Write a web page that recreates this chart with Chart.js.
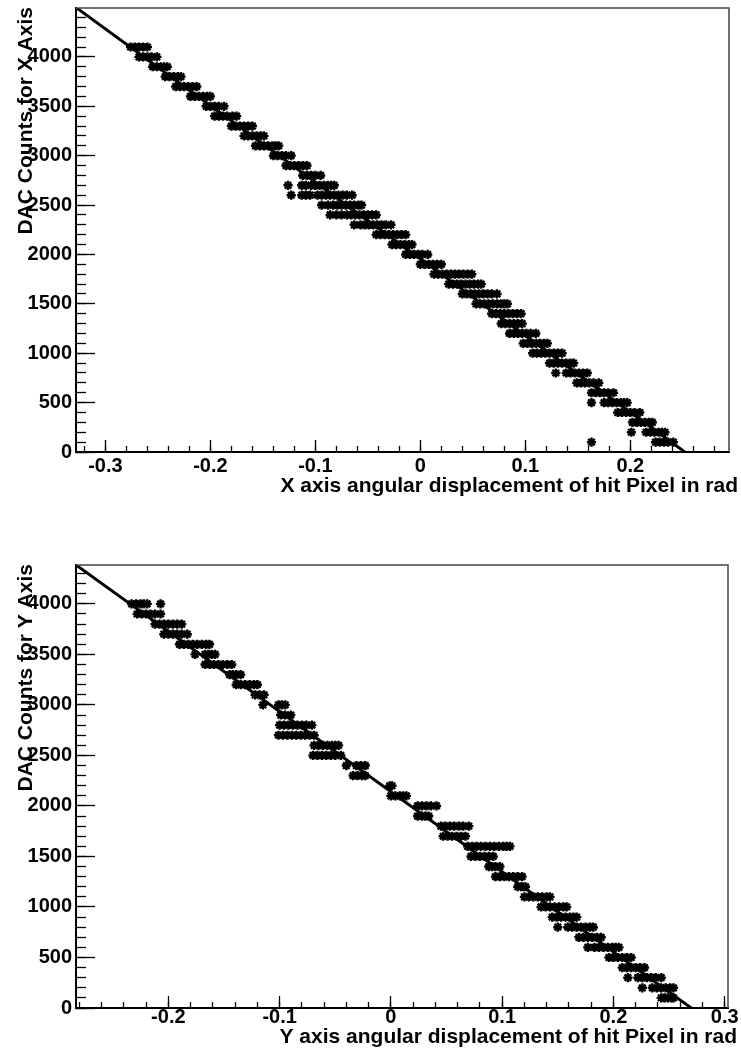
<!doctype html>
<html>
<head>
  <meta charset="utf-8">
  <title>DAC counts vs angular displacement</title>
  <style>
    body { margin: 0; background: #fff; }
    canvas { display: block; }
  </style>
</head>
<body>
<canvas id="topChart" width="741" height="527"></canvas>
<canvas id="bottomChart" width="741" height="527"></canvas>

<script src="https://cdn.jsdelivr.net/npm/chart.js@4"></script>
<script>

	// X axis: DAC level (counts) and the hit angles (rad) recorded at each level
	const dacX = [4100, 4000, 3900, 3800, 3700, 3600, 3500, 3400, 3300, 3200, 3100,
		3000, 2900, 2800, 2700, 2600, 2500, 2400, 2300, 2200, 2100,
		2000, 1900, 1800, 1700, 1600, 1500, 1400, 1300, 1200, 1100,
		1000, 900, 800, 700, 600, 500, 400, 300, 200, 100]

	const angX = [
		[-0.276, -0.272, -0.268, -0.264, -0.260],
		[-0.268, -0.264, -0.260, -0.256, -0.251],
		[-0.255, -0.251, -0.247, -0.244, -0.241],
		[-0.243, -0.239, -0.235, -0.231, -0.228],
		[-0.233, -0.229, -0.225, -0.221, -0.217, -0.213],
		[-0.219, -0.215, -0.211, -0.207, -0.203, -0.200],
		[-0.204, -0.200, -0.196, -0.192, -0.187],
		[-0.196, -0.192, -0.188, -0.184, -0.179, -0.175],
		[-0.180, -0.176, -0.172, -0.168, -0.164, -0.160],
		[-0.168, -0.164, -0.160, -0.156, -0.152, -0.149],
		[-0.157, -0.153, -0.149, -0.145, -0.141, -0.138, -0.135],
		[-0.140, -0.136, -0.132, -0.128, -0.123],
		[-0.128, -0.124, -0.120, -0.116, -0.112, -0.108],
		[-0.112, -0.108, -0.104, -0.100, -0.095],
		[-0.126, -0.113, -0.109, -0.104, -0.100, -0.096, -0.092, -0.088, -0.085, -0.082],
		[-0.123, -0.113, -0.109, -0.105, -0.098, -0.094, -0.090, -0.086, -0.082, -0.078, -0.074, -0.070, -0.065],
		[-0.094, -0.088, -0.083, -0.079, -0.075, -0.071, -0.067, -0.063, -0.059, -0.056],
		[-0.086, -0.080, -0.075, -0.070, -0.066, -0.062, -0.058, -0.054, -0.050, -0.046, -0.042],
		[-0.063, -0.057, -0.053, -0.049, -0.045, -0.041, -0.037, -0.033, -0.028],
		[-0.042, -0.038, -0.034, -0.030, -0.026, -0.022, -0.018, -0.014],
		[-0.027, -0.023, -0.019, -0.015, -0.011, -0.008],
		[-0.014, -0.010, -0.006, -0.002, 0.002, 0.007],
		[0.000, 0.004, 0.008, 0.012, 0.016, 0.020],
		[0.013, 0.017, 0.021, 0.025, 0.029, 0.033, 0.037, 0.041, 0.045, 0.049],
		[0.027, 0.031, 0.035, 0.039, 0.043, 0.047, 0.051, 0.055, 0.058],
		[0.040, 0.044, 0.048, 0.052, 0.056, 0.060, 0.064, 0.068, 0.073],
		[0.053, 0.057, 0.061, 0.065, 0.069, 0.073, 0.077, 0.080, 0.083],
		[0.068, 0.072, 0.076, 0.080, 0.084, 0.088, 0.092, 0.096],
		[0.077, 0.081, 0.085, 0.089, 0.093, 0.097],
		[0.085, 0.089, 0.093, 0.097, 0.101, 0.105, 0.110],
		[0.098, 0.102, 0.106, 0.110, 0.114, 0.118, 0.121],
		[0.107, 0.111, 0.115, 0.119, 0.123, 0.127, 0.131, 0.135],
		[0.123, 0.127, 0.131, 0.135, 0.139, 0.143, 0.146],
		[0.129, 0.139, 0.143, 0.147, 0.151, 0.155, 0.159],
		[0.149, 0.153, 0.157, 0.161, 0.165, 0.170],
		[0.163, 0.167, 0.171, 0.175, 0.179, 0.184],
		[0.163, 0.175, 0.179, 0.183, 0.187, 0.191, 0.194, 0.197],
		[0.188, 0.192, 0.196, 0.200, 0.204, 0.209],
		[0.202, 0.206, 0.210, 0.214, 0.218, 0.221],
		[0.201, 0.215, 0.219, 0.223, 0.227, 0.230, 0.233],
		[0.163, 0.224, 0.228, 0.232, 0.236, 0.241],
	]

	// Y axis: same thing
	const dacY = [4000, 3900, 3800, 3700, 3600, 3500, 3400, 3300, 3200, 3100,
		3000, 2900, 2800, 2700, 2600, 2500, 2400, 2300, 2200, 2100,
		2000, 1900, 1800, 1700, 1600, 1500, 1400, 1300, 1200, 1100,
		1000, 900, 800, 700, 600, 500, 400, 300, 200, 100]

	const angY = [
		[-0.233, -0.229, -0.225, -0.222, -0.219, -0.207],
		[-0.228, -0.224, -0.220, -0.216, -0.212, -0.207],
		[-0.212, -0.208, -0.204, -0.200, -0.196, -0.192, -0.188],
		[-0.204, -0.200, -0.196, -0.192, -0.188, -0.183],
		[-0.190, -0.186, -0.182, -0.178, -0.174, -0.170, -0.166, -0.163],
		[-0.176, -0.167, -0.164, -0.161, -0.158],
		[-0.167, -0.163, -0.159, -0.155, -0.151, -0.147, -0.143],
		[-0.145, -0.142, -0.139, -0.135],
		[-0.139, -0.135, -0.131, -0.127, -0.123, -0.120],
		[-0.122, -0.118, -0.114],
		[-0.115, -0.101, -0.098, -0.095],
		[-0.099, -0.095, -0.090],
		[-0.100, -0.096, -0.092, -0.088, -0.084, -0.080, -0.076, -0.071],
		[-0.101, -0.097, -0.093, -0.089, -0.085, -0.081, -0.077, -0.073, -0.069],
		[-0.069, -0.065, -0.061, -0.057, -0.053, -0.050, -0.047],
		[-0.070, -0.066, -0.062, -0.058, -0.054, -0.050, -0.045],
		[-0.040, -0.031, -0.027, -0.023],
		[-0.034, -0.030, -0.026, -0.023],
		[-0.001, 0.001],
		[0.000, 0.004, 0.008, 0.011, 0.014],
		[0.024, 0.028, 0.032, 0.036, 0.041],
		[0.024, 0.028, 0.031, 0.034],
		[0.045, 0.049, 0.053, 0.057, 0.061, 0.065, 0.070],
		[0.047, 0.051, 0.055, 0.059, 0.063, 0.067],
		[0.069, 0.073, 0.077, 0.081, 0.085, 0.089, 0.093, 0.097, 0.101, 0.104, 0.107],
		[0.072, 0.076, 0.080, 0.084, 0.088, 0.092],
		[0.088, 0.091, 0.094, 0.098],
		[0.094, 0.098, 0.102, 0.106, 0.110, 0.114, 0.118],
		[0.114, 0.117, 0.119, 0.121],
		[0.120, 0.124, 0.128, 0.132, 0.136, 0.140, 0.143],
		[0.135, 0.139, 0.143, 0.147, 0.151, 0.155, 0.158],
		[0.145, 0.149, 0.153, 0.157, 0.161, 0.164, 0.167],
		[0.150, 0.159, 0.163, 0.167, 0.171, 0.175, 0.179, 0.182],
		[0.169, 0.173, 0.177, 0.181, 0.185, 0.189],
		[0.177, 0.183, 0.187, 0.191, 0.195, 0.199, 0.202, 0.205],
		[0.196, 0.200, 0.204, 0.208, 0.212, 0.216],
		[0.208, 0.212, 0.216, 0.220, 0.224, 0.228],
		[0.213, 0.222, 0.226, 0.230, 0.234, 0.238, 0.243],
		[0.226, 0.235, 0.239, 0.243, 0.247, 0.251, 0.254],
		[0.243, 0.246, 0.249, 0.252, 0.254],
	]

	// straight line fits, [intercept, slope]
	const fitX = [1955, -7759]
	const fitY = [2141, -7930]

	// labelled ticks
	const angTicksX = [-0.3, -0.2, -0.1, 0, 0.1, 0.2]
	const angTicksY = [-0.2, -0.1, 0, 0.1, 0.2, 0.3]
	const dacTicks = [0, 500, 1000, 1500, 2000, 2500, 3000, 3500, 4000]

	const FONT = '"Liberation Sans", Arial, Helvetica, sans-serif'

	// ROOT style frame (top/right) plus the two axis titles
	const frameAndTitles = {
		id: 'frameAndTitles',
		afterDraw(chart, args, o) {
			const {ctx, chartArea: a} = chart
			ctx.save()
			ctx.strokeStyle = '#444'
			ctx.lineWidth = 1.5
			ctx.beginPath()
			ctx.moveTo(a.left, a.top)
			ctx.lineTo(a.right, a.top)
			ctx.lineTo(a.right, a.bottom)
			ctx.stroke()

			ctx.fillStyle = '#000'
			ctx.font = 'bold 21px ' + FONT
			ctx.textAlign = 'right'
			ctx.textBaseline = 'alphabetic'
			ctx.fillText(o.xTitle, o.xTitleAt[0], o.xTitleAt[1])
			ctx.translate(o.yTitleAt[0], o.yTitleAt[1])
			ctx.rotate(-Math.PI / 2)
			ctx.fillText(o.yTitle, 0, 0)
			ctx.restore()
		}
	}

	function fixSize(prop, val) {
		return s => {
			s[prop] = val
			s.paddingTop = s.paddingBottom = s.paddingLeft = s.paddingRight = 0
		}
	}

	const useTicks = values => s => { s.ticks = values.map(v => ({value: v})) }

	// unlabelled minor ticks, one every `step` inside [min, max]
	const minorTicks = (step, min, max) => s => {
		const out = []
		for (let k = Math.ceil(min / step - 1e-9); k * step <= max + 1e-9; k++) {
			out.push({value: +(k * step).toFixed(4)})
		}
		s.ticks = out
	}

	function draw(canvasId, p) {
		const tickFont = {family: FONT, size: 20, weight: 'bold', lineHeight: 1}
		const points = p.ang.flatMap((row, i) => row.map(a => ({x: a, y: p.dac[i]})))
		const fitLine = p.xRange.map(x => ({x: x, y: p.fit[0] + p.fit[1] * x}))

		return new Chart(document.getElementById(canvasId), {
			data: {
				datasets: [{
					type: 'line',
					data: fitLine,
					borderColor: '#000',
					borderWidth: 3,
					pointRadius: 0,
					clip: 0,
				}, {
					type: 'scatter',
					data: points,
					pointStyle: 'star',
					pointRadius: 4.6,
					borderColor: '#000',
					borderWidth: 2.4,
				}]
			},
			options: {
				responsive: false,
				animation: false,
				devicePixelRatio: 1,
				layout: {autoPadding: false, padding: p.pad},
				plugins: {
					legend: {display: false},
					tooltip: {enabled: false},
					frameAndTitles: {xTitle: p.xTitle, yTitle: p.yTitle, xTitleAt: p.xTitleAt, yTitleAt: p.yTitleAt},
				},
				scales: {
					x: {
						type: 'linear', position: 'bottom', min: p.xRange[0], max: p.xRange[1],
						afterBuildTicks: useTicks(p.xTicks),
						afterFit: fixSize('height', p.xAxisH),
						border: {display: true, color: '#000', width: 2},
						grid: {drawOnChartArea: false, tickLength: -12, tickWidth: 1.3, tickColor: '#000'},
						ticks: {autoSkip: false, maxRotation: 0,
							padding: p.xLabelPad, color: '#000', font: tickFont, callback: v => String(v)},
					},
					xm: {
						type: 'linear', position: 'bottom', weight: -1, min: p.xRange[0], max: p.xRange[1],
						afterBuildTicks: minorTicks(0.02, p.xRange[0], p.xRange[1]),
						afterFit: fixSize('height', 0),
						border: {display: false},
						grid: {drawOnChartArea: false, tickLength: -6, tickWidth: 1.3, tickColor: '#000'},
						ticks: {display: false},
					},
					y: {
						type: 'linear', position: 'left', min: 0, max: p.yMax,
						afterBuildTicks: useTicks(dacTicks),
						afterFit: fixSize('width', 76),
						border: {display: true, color: '#000', width: 2},
						grid: {drawOnChartArea: false, tickLength: -19, tickWidth: 1.3, tickColor: '#000'},
						ticks: {autoSkip: false,
							padding: 23, color: '#000', font: tickFont, callback: v => String(v)},
					},
					ym: {
						type: 'linear', position: 'left', weight: -1, min: 0, max: p.yMax,
						afterBuildTicks: minorTicks(100, 0, p.yMax),
						afterFit: fixSize('width', 0),
						border: {display: false},
						grid: {drawOnChartArea: false, tickLength: -10, tickWidth: 1.3, tickColor: '#000'},
						ticks: {display: false},
					},
				}
			},
			plugins: [frameAndTitles]
		})
	}

	draw('topChart', {
		dac: dacX, ang: angX, fit: fitX, xTicks: angTicksX,
		xRange: [-0.328, 0.294], yMax: 4495,
		pad: {left: 0, right: 12, top: 8, bottom: 0},
		xAxisH: 75, xLabelPad: 16,
		xTitle: 'X axis angular displacement of hit Pixel in rad',
		yTitle: 'DAC Counts for X Axis',
		xTitleAt: [738, 492], yTitleAt: [31.5, 7],
	})

	draw('bottomChart', {
		dac: dacY, ang: angY, fit: fitY, xTicks: angTicksY,
		xRange: [-0.283, 0.303], yMax: 4385,
		pad: {left: 0, right: 13, top: 38, bottom: 0},
		xAxisH: 46, xLabelPad: 11.5,
		xTitle: 'Y axis angular displacement of hit Pixel in rad',
		yTitle: 'DAC Counts for Y Axis',
		xTitleAt: [737, 516], yTitleAt: [31.5, 37],
	})

</script>
</body>
</html>
